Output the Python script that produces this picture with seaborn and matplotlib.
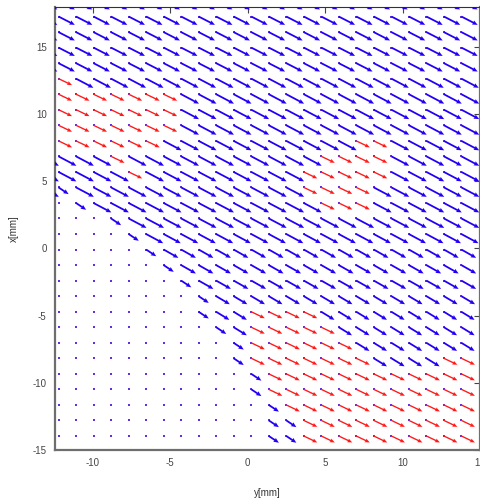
import numpy as np
import matplotlib
matplotlib.use("Agg")
import matplotlib.pyplot as plt
import seaborn as sns
import pandas as pd

# grid positions (mm)
X_POS = [-13.35, -12.22, -11.09, -9.96, -8.83, -7.69, -6.56, -5.43, -4.30,
         -3.17, -2.04, -0.91, 0.23, 1.36, 2.49, 3.62, 4.75, 5.88, 7.01,
         8.14, 9.28, 10.41, 11.54, 12.67, 13.80]
Y_POS = [-13.96, -12.80, -11.65, -10.49, -9.34, -8.18, -7.03, -5.87, -4.72,
         -3.56, -2.40, -1.25, -0.09, 1.06, 2.22, 3.37, 4.53, 5.68, 6.84,
         7.99, 9.15, 10.31, 11.46, 12.62, 13.77, 14.93, 16.08, 17.24, 18.39]

# arrow class per grid point, top row first
# b = blue, s = short blue, r = red, . = zero vector
CLASS_ROWS = [
    "bbbbbbbbbbbbbbbbbbbbbbbbb",  # 18.39
    "bbbbbbbbbbbbbbbbbbbbbbbbb",
    "bbbbbbbbbbbbbbbbbbbbbbbbb",
    "bbbbbbbbbbbbbbbbbbbbbbbbb",
    "bbbbbbbbbbbbbbbbbbbbbbbbb",
    "rrbbbbbbbbbbbbbbbbbbbbbbb",
    "rrrrrrrrbbbbbbbbbbbbbbbbb",
    "rrrrrrrrbbbbbbbbbbbbbbbbb",
    "rrrrrrrrbbbbbbbbbbbbbbbbb",
    "rrrrrrrbbbbbbbbbbbrrbbbbb",
    "bbbbrbbbbbbbbbbbrrrrbbbbb",
    "bbbbbrbbbbbbbbbrrrrrbbbbb",
    "bsbbbbbbbbbbbbbrrrrbbbbbb",
    "..sbbbbbbbbbbbbbrrrbbbbbb",
    "....sbbbbbbbbbbbbbbbbbbbb",
    ".....sbbbbbbbbbbbbbbbbbbb",
    "......sbbbbbbbbbbbbbbbbbb",
    ".......sbbbbbbbbbbbbbbbbb",
    "........sbbbbbbbbbbbbbbbb",
    ".........sbbbbbbbbbbbbbbb",
    ".........sbbrrrrbbbbbbbbb",
    "..........sbrrrrrbbbbbbbb",
    "...........srrrrrrbbbbbbb",
    "...........srrrrrrrbbbbrr",
    "............srrrrrrrrrrrr",
    "............srrrrrrrrrrrr",
    ".............srrrrrrrrrrr",
    ".............ssrrrrrrrrrr",
    ".............ssrrrrrrrrrr",  # -13.96
]

# blue arrow components per row, bottom row first
BLUE_U = [0.85, 0.85, 0.85, 0.85, 0.85, 0.85, 0.85, 0.85, 0.85, 0.88,
          0.95, 0.95, 0.95, 1.1, 1.15, 1.15, 1.15, 1.15, 1.15, 1.15,
          1.15, 1.15, 1.15, 1.12, 1.05, 1.05, 1.05, 1.05, 1.05]
BLUE_V = [-0.60, -0.60, -0.60, -0.60, -0.60, -0.60, -0.60, -0.60, -0.60, -0.60,
          -0.62, -0.62, -0.62, -0.68, -0.70, -0.70, -0.70, -0.70, -0.70, -0.70,
          -0.70, -0.70, -0.70, -0.68, -0.62, -0.62, -0.62, -0.62, -0.62]
SHORT_UV = (0.65, -0.50)
RED_UV = (0.87, -0.48)

BLUE = "#2200f5"
RED = "#ff1a1a"
DOT = "#6a2ae8"


def main():
    rows = []
    for i, line in enumerate(CLASS_ROWS):
        r = len(Y_POS) - 1 - i
        for c, k in enumerate(line):
            if k == "b":
                u, v = BLUE_U[r], BLUE_V[r]
            elif k == "s":
                u, v = SHORT_UV
            elif k == "r":
                u, v = RED_UV
            else:
                u, v = 0.0, 0.0
            rows.append(dict(x=X_POS[c], y=Y_POS[r], u=u, v=v, kind=k))
    df = pd.DataFrame(rows)

    sns.set_style("white")
    plt.rcParams["font.family"] = ["Liberation Sans", "DejaVu Sans"]
    plt.rcParams["axes.unicode_minus"] = False

    fig = plt.figure(figsize=(4.8, 5.01), dpi=100)
    ax = fig.add_axes([55 / 480, 51 / 501, 425 / 480, 443 / 501])

    sns.scatterplot(data=df, x="x", y="y", color=DOT, marker="s", s=3,
                    linewidth=0, ax=ax, zorder=2)

    blue = df[df.kind.isin(["b", "s"])]
    ax.quiver(blue.x, blue.y, blue.u, blue.v, angles="xy", scale_units="xy",
              scale=1, color=BLUE, width=0.0042, headwidth=2.6,
              headlength=3.0, headaxislength=2.7, zorder=3)
    red = df[df.kind == "r"]
    ax.quiver(red.x, red.y, red.u, red.v, angles="xy", scale_units="xy",
              scale=1, color=RED, width=0.0032, headwidth=3.0,
              headlength=3.6, headaxislength=3.2, zorder=3)

    ax.set_xlim(-12.45, 15.0)
    ax.set_ylim(-15.0, 17.95)
    ax.set_xticks([-10, -5, 0, 5, 10, 15])
    ax.set_yticks([-15, -10, -5, 0, 5, 10, 15])
    ax.tick_params(direction="in", length=4, width=0.8, colors="#444444",
                   labelsize=7, top=True, right=True, pad=6)
    for side in ["left", "bottom", "right"]:
        ax.spines[side].set_color("#6e6e6e")
        ax.spines[side].set_linewidth(1.6)
    ax.spines["top"].set_color("#333333")
    ax.spines["top"].set_linewidth(0.8)

    ax.set_xlabel("y[mm]", fontsize=7, color="#333333", labelpad=14)
    ax.set_ylabel("x[mm]", fontsize=7, color="#333333", labelpad=10)

    fig.savefig("out.png", dpi=100)


if __name__ == "__main__":
    main()
